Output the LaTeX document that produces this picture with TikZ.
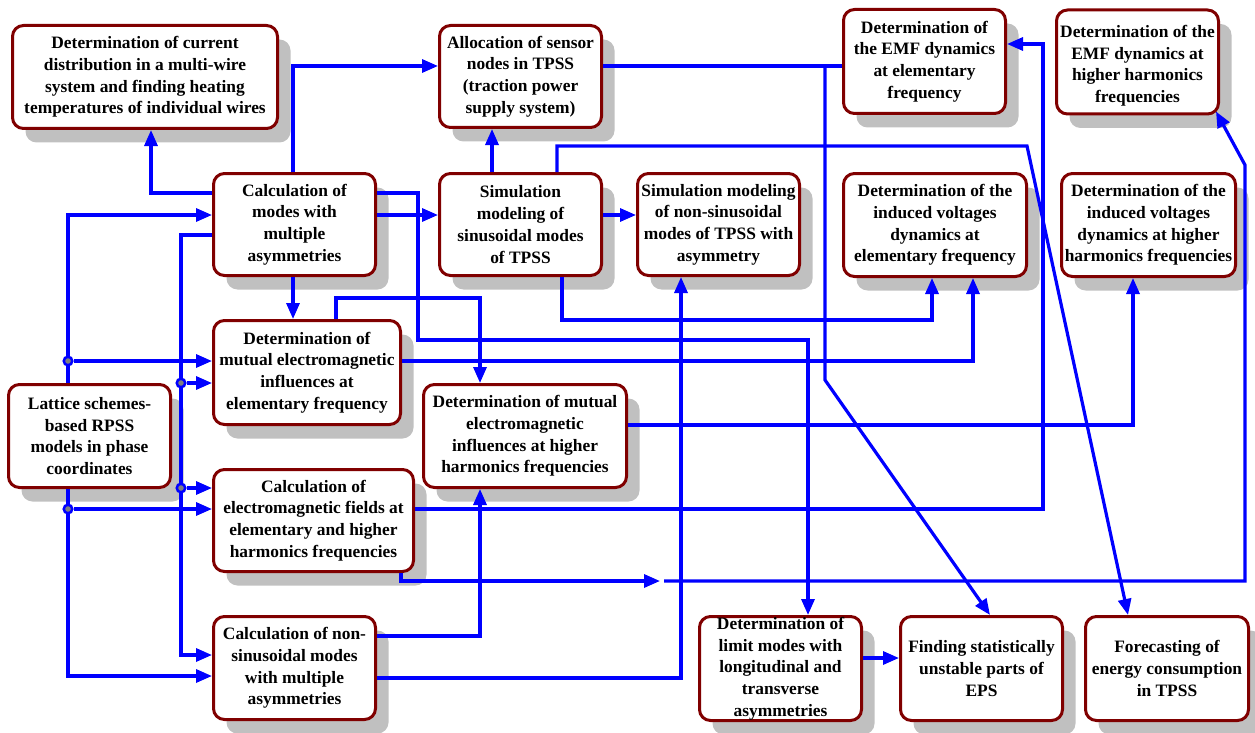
\documentclass[tikz,border=0pt]{standalone}
\usepackage{fontspec}
\setmainfont{Liberation Serif}
\usetikzlibrary{arrows.meta,shadows,calc}
\definecolor{boxred}{RGB}{128,0,0}
\definecolor{shadowgray}{RGB}{192,192,192}
\definecolor{wire}{RGB}{0,0,255}
\definecolor{dotgray}{RGB}{128,128,128}

\begin{document}
\begin{tikzpicture}[x=1pt,y=-1pt,
  box/.style={draw=boxred, line width=3pt, rounded corners=11pt, fill=white,
    align=center, inner sep=0pt,
    font=\bfseries\fontsize{17.4}{21.7}\selectfont,
    drop shadow={shadow xshift=13pt, shadow yshift=-14pt, fill=shadowgray, opacity=1}},
  conn/.style={draw=wire, line width=3.2pt},
  arr/.style={conn, -{Triangle[length=16pt,width=13pt]}},
  jdot/.style={circle, draw=wire, fill=dotgray, line width=2.5pt,
    minimum size=8.5pt, inner sep=0pt},
]
\useasboundingbox (0,0) rectangle (1255,733);

% ---- blocks ----
\node[box, minimum width=265pt, minimum height=103pt] (cur) at (145,77)
  {Determination of current\\distribution in a multi-wire\\system and finding heating\\temperatures of individual wires};
\node[box, minimum width=162pt, minimum height=102pt] (alloc) at (520.5,76.5)
  {Allocation of sensor\\nodes in TPSS\\(traction power\\supply system)};
\node[box, minimum width=162pt, minimum height=104pt] (emf1) at (924.5,61.5)
  {Determination of\\the EMF dynamics\\at elementary\\frequency};
\node[box, minimum width=162pt, minimum height=104pt] (emf2) at (1137.5,62)
  {\rule{0pt}{20pt}Determination of the\\EMF dynamics at\\higher harmonics\\frequencies};

\node[box, minimum width=162pt, minimum height=102pt] (calc) at (294.5,224.5)
  {Calculation of\\modes with\\multiple\\asymmetries};
\node[box, minimum width=162pt, minimum height=102pt] (sim) at (520.5,224.5)
  {Simulation\\modeling of\\sinusoidal modes\\of TPSS};
\node[box, minimum width=162pt, minimum height=102pt] (simn) at (718.5,224.5)
  {Simulation modeling\\of non-sinusoidal\\modes of TPSS with\\asymmetry};
\node[box, minimum width=183pt, minimum height=103pt] (ind1) at (935,225)
  {Determination of the\\induced voltages\\dynamics at\\elementary frequency};
\node[box, minimum width=174pt, minimum height=103pt] (ind2) at (1148.5,225)
  {Determination of the\\induced voltages\\dynamics at higher\\harmonics frequencies};

\node[box, minimum width=187pt, minimum height=104pt] (mut1) at (307,372.5)
  {Determination of\\mutual electromagnetic\\influences at\\elementary frequency};
\node[box, minimum width=162pt, minimum height=103pt] (lat) at (89.5,436)
  {Lattice schemes-\\based RPSS\\models in phase\\coordinates};
\node[box, minimum width=203pt, minimum height=103pt] (mut2) at (525,436)
  {Determination of mutual\\electromagnetic\\influences at higher\\harmonics frequencies};
\node[box, minimum width=200pt, minimum height=102pt] (emfld) at (313.5,520.5)
  {Calculation of\\electromagnetic fields at\\elementary and higher\\harmonics frequencies};

\node[box, minimum width=162pt, minimum height=103pt] (nons) at (294.5,668)
  {Calculation of non-\\sinusoidal modes\\with multiple\\asymmetries};
\node[box, minimum width=162pt, minimum height=104pt] (lim) at (780.5,668.5)
  {Determination of\\limit modes with\\longitudinal and\\transverse\\asymmetries};
\node[box, minimum width=162pt, minimum height=104pt] (find) at (981.5,668.5)
  {Finding statistically\\unstable parts of\\EPS};
\node[box, minimum width=163pt, minimum height=104pt] (fore) at (1167,668.5)
  {Forecasting of\\energy consumption\\in TPSS};

% ---- connectors ----
\draw[arr] (calc.west |- 0,193) -| (cur.south -| 151,0);
\draw[arr] (calc.north -| 293,0) |- (alloc.west |- 0,66);
\draw[arr] (lat.north -| 68,0) |- (calc.west |- 0,215);
\draw[arr] (lat.south -| 68,0) |- (nons.west |- 0,676);
\draw[arr] (calc.west |- 0,235) -- (181,235) |- (nons.west |- 0,655);

\draw[arr] (calc.east |- 0,215) -- (sim.west |- 0,215);
\draw[arr] (calc.east |- 0,193) -| (418,340) -| (lim.north -| 808,0);
\draw[arr] (calc.south -| 293,0) -- (mut1.north -| 293,0);
\draw[arr] (mut1.north -| 336,0) |- (480,298) -- (mut2.north -| 480,0);
\draw[arr] (mut1.east |- 0,361) -| (ind1.south -| 973,0);
\draw[arr] (sim.south -| 562,0) |- (932,320) -- (ind1.south -| 932,0);
\draw[arr] (sim.east |- 0,215) -- (simn.west |- 0,215);
\draw[arr] (sim.north -| 492,0) -- (alloc.south -| 492,0);
\draw[arr] (sim.north -| 557,0) |- (1027,146) -- (fore.north -| 1128,0);

\coordinate (tap) at (825,66);
\draw[conn] (alloc.east |- tap) -- (emf1.west |- tap);
\draw[arr] (tap) -- (825,380) -- (find.north -| 990,0);

\draw[arr] (emfld.east |- 0,509) -| (1043,44) -- (emf1.east |- 0,44);
\draw[arr] (mut2.east |- 0,425) -| (ind2.south -| 1133,0);

\coordinate (gapin) at (660,581);
\coordinate (gapout) at (664,581);
\draw[arr] (emfld.south -| 401,0) |- (gapin);
\draw[arr] (gapout) -- (1245,581) -- (1245,165) -- ($(emf2.south east)+(-4,-4)$);

\draw[arr] (nons.east |- 0,636) -| (mut2.south -| 480,0);
\draw[arr] (nons.east |- 0,678) -| (simn.south -| 681,0);
\draw[arr] (lim.east |- 0,658) -- (find.west |- 0,658);

% ---- junction dots ----
\node[jdot] (ja) at (68,361) {};
\node[jdot] (jb) at (68,509) {};
\node[jdot] (jc) at (181,383) {};
\node[jdot] (jd) at (181,488) {};
\draw[arr] (ja) -- (mut1.west |- ja);
\draw[arr] (jb) -- (emfld.west |- jb);
\draw[arr] (jc) -- (mut1.west |- jc);
\draw[arr] (jd) -- (emfld.west |- jd);
\end{tikzpicture}
\end{document}
